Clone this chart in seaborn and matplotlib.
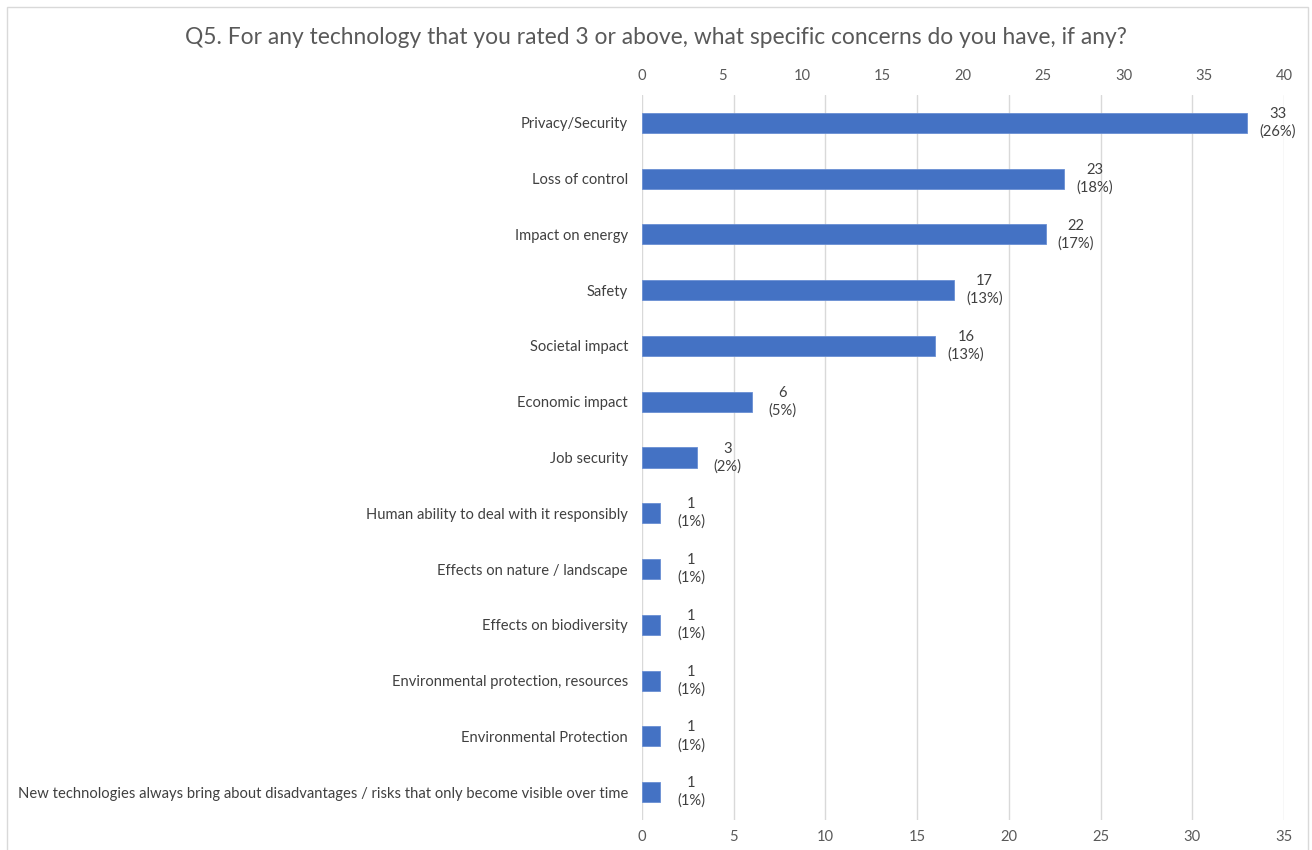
import matplotlib
matplotlib.use("Agg")
import matplotlib.pyplot as plt
import matplotlib.patches as mpatches
import seaborn as sns
import pandas as pd

categories = [
    "Privacy/Security",
    "Loss of control",
    "Impact on energy",
    "Safety",
    "Societal impact",
    "Economic impact",
    "Job security",
    "Human ability to deal with it responsibly",
    "Effects on nature / landscape",
    "Effects on biodiversity",
    "Environmental protection, resources",
    "Environmental Protection",
    "New technologies always bring about disadvantages / risks that only become visible over time",
]
counts = [33, 23, 22, 17, 16, 6, 3, 1, 1, 1, 1, 1, 1]
percents = [26, 18, 17, 13, 13, 5, 2, 1, 1, 1, 1, 1, 1]
bottom_ticks = [0, 5, 10, 15, 20, 25, 30, 35]
top_ticks = [0, 5, 10, 15, 20, 25, 30, 35, 40]

df = pd.DataFrame({"concern": categories, "count": counts, "pct": percents})

sns.set_theme(style="white")
plt.rcParams["font.family"] = ["Lato", "DejaVu Sans"]

text_gray = "#595959"
grid_gray = "#d9d9d9"
bar_blue = "#4472C4"
fs = 10.6

fig = plt.figure(figsize=(13.12, 8.5), dpi=100)
ax = fig.add_axes([642 / 1312, 1 - 820 / 850, (1284 - 642) / 1312, (820 - 95) / 850])

sns.barplot(data=df, x="count", y="concern", orient="h", color=bar_blue,
            width=0.36, saturation=1, edgecolor="#6a8fd3", linewidth=0.6, ax=ax)

ax.set_xlim(0, 35)
ax.set_ylim(12.5, -0.5)
ax.set_xticks(bottom_ticks)
ax.set_xticklabels([str(t) for t in bottom_ticks])
ax.xaxis.grid(True, color=grid_gray, linewidth=1)
ax.yaxis.grid(False)
ax.set_axisbelow(True)
for s in ax.spines.values():
    s.set_visible(False)
ax.tick_params(axis="x", length=0, pad=7.5, labelsize=fs, labelcolor=text_gray)
ax.tick_params(axis="y", length=0, pad=10, labelsize=fs, labelcolor="#404040")
ax.set_xlabel("")
ax.set_ylabel("")

# value labels: count on the first line, share on the second
for i, (c, p) in enumerate(zip(counts, percents)):
    ax.annotate(f"{c}\n({p}%)", xy=(c, i), xytext=(22, 0), textcoords="offset points",
                ha="center", va="center", fontsize=fs, color="#404040", linespacing=1.3)

# secondary scale along the top
ax2 = ax.twiny()
ax2.set_xlim(0, 40)
ax2.set_xticks(top_ticks)
ax2.set_xticklabels([str(t) for t in top_ticks])
ax2.tick_params(axis="x", length=0, pad=9, labelsize=fs, labelcolor=text_gray)
ax2.grid(False)
for s in ax2.spines.values():
    s.set_visible(False)

fig.text(0.5, 1 - 38 / 850, "Q5. For any technology that you rated 3 or above, what specific concerns do you have, if any?",
         ha="center", va="center", fontsize=16.4, color=text_gray)

# light frame around the chart area
frame = mpatches.Rectangle((7 / 1312, -0.01), (1308 - 7) / 1312, 1 - 7 / 850 + 0.01,
                           transform=fig.transFigure, fill=False,
                           edgecolor=grid_gray, linewidth=1)
fig.patches.append(frame)

fig.savefig("out.png", dpi=100, facecolor="white")
